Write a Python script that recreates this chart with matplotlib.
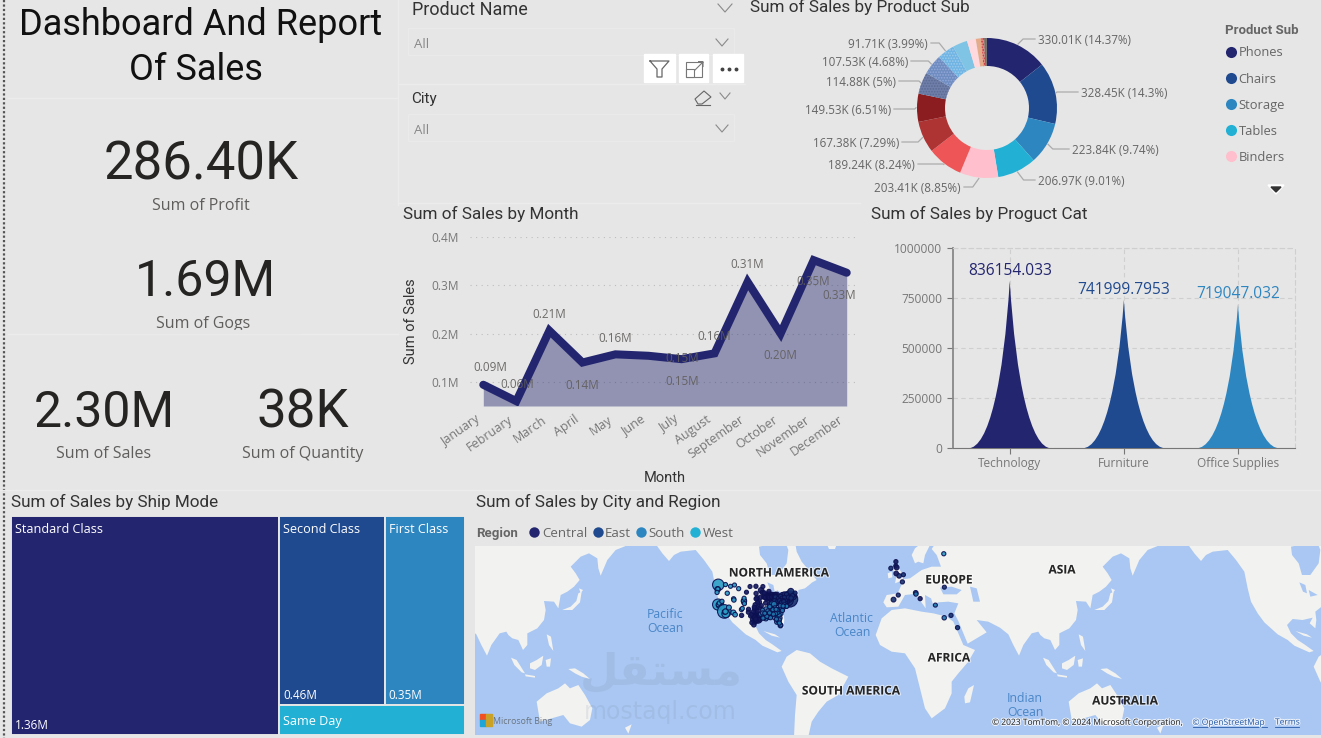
import numpy as np
import matplotlib
matplotlib.use("Agg")
import matplotlib.pyplot as plt
import matplotlib.patheffects as pe
from matplotlib.patches import Polygon, Rectangle, PathPatch
from matplotlib.path import Path
from matplotlib.transforms import ScaledTranslation

plt.rcParams['font.family'] = ['Open Sans', 'DejaVu Sans']
plt.rcParams['hatch.linewidth'] = 0.8

W, H = 1321, 738
BG = "#E6E6E6"
NAVY, BLUE, MID, TEAL = "#23266F", "#204A8F", "#2E86C1", "#22B0D4"
HEAD = ['Roboto', 'DejaVu Sans']

# KPI cards
kpi_profit = "286.40K"
kpi_gogs = "1.69M"
kpi_sales = "2.30M"
kpi_quantity = "38K"

# sales by product sub category (thousands)
sub_names = ["Phones", "Chairs", "Storage", "Tables", "Binders"]
sub_sales = [330.01, 328.45, 223.84, 206.97, 203.41, 189.24, 167.38, 149.53,
             114.88, 107.53, 91.71, 78.48, 46.67, 27.12, 16.48, 12.49, 3.02]
sub_pct = ["14.37", "14.3", "9.74", "9.01", "8.85", "8.24", "7.29", "6.51", "5", "4.68", "3.99"]
sub_colors = [NAVY, BLUE, MID, TEAL, "#FFBFCC", "#EE5557", "#AE3333", "#8B1C1F",
              "#6F7EA8", "#6F8CC0", "#70B4E4", "#7FC4E4", "#FFD9DE", "#E5AC8C",
              "#E08A80", "#7A6A60", "#444444"]
sub_label_x = [1038, 1081, 1072, 1038, 961, 915, 899, 891, 896, 908, 928]
sub_label_y = [39, 92, 149, 180, 187, 164, 142, 109, 81, 61, 43]

# sales by month (millions)
months = ["January", "February", "March", "April", "May", "June", "July",
          "August", "September", "October", "November", "December"]
month_sales = [0.094, 0.060, 0.206, 0.140, 0.157, 0.154, 0.147, 0.159, 0.307, 0.200, 0.352, 0.326]
month_label_x = [490, 517, 549, 582, 615, 682, 682, 714, 747, 780, 813, 839]
month_label_y = [366, 383, 313, 384, 337, 380, 357, 335, 263, 354, 280, 294]

# sales by product category
cats = ["Technology", "Furniture", "Office Supplies"]
cat_sales = [836154.033, 741999.7953, 719047.032]
cat_text = ["836154.033", "741999.7953", "719047.032"]
cat_colors = [NAVY, BLUE, MID]

# sales by ship mode (millions)
ship_modes = ["Standard Class", "Second Class", "First Class", "Same Day"]
ship_sales = [1.36, 0.46, 0.35, 0.13]

# cities on the map: lon, lat, sales in thousands
central_cities = [(-87.6, 41.9, 76), (-95.4, 29.8, 64), (-96.8, 32.8, 20), (-98.5, 29.4, 21), (-97.7, 30.3, 8),
                  (-93.3, 45.0, 16), (-87.9, 43.0, 8), (-83.0, 42.3, 42), (-86.2, 39.8, 6), (-94.6, 39.1, 8),
                  (-97.5, 35.5, 10), (-96.0, 36.2, 5), (-96.0, 41.3, 5), (-97.3, 37.7, 3), (-93.6, 41.6, 4),
                  (-89.4, 43.1, 5), (-90.2, 38.6, 3), (-96.7, 43.5, 3), (-96.8, 46.9, 2), (-100.8, 46.8, 1),
                  (-103.2, 44.1, 1), (-101.8, 35.2, 3), (-101.9, 33.6, 2), (-106.5, 31.8, 3), (-97.4, 27.8, 3),
                  (-99.5, 27.5, 3), (-97.1, 31.5, 2), (-97.3, 32.8, 3), (-96.7, 40.8, 2), (-95.7, 39.0, 1),
                  (-89.6, 40.7, 3), (-89.1, 42.3, 2), (-85.7, 43.0, 3), (-84.6, 42.7, 2), (-88.0, 44.5, 2),
                  (-92.1, 46.8, 1), (-94.1, 30.1, 3), (-95.3, 32.3, 3), (-100.4, 31.5, 2), (-98.2, 26.2, 4),
                  (-94.1, 36.1, 3), (-92.5, 44.0, 3), (-91.5, 41.7, 2), (-87.6, 37.9, 3), (-85.1, 41.1, 3),
                  (-95.9, 34.0, 3), (-96.3, 30.6, 3), (-98.0, 31.0, 2), (-99.7, 32.4, 2), (-94.7, 31.3, 2),
                  (-95.0, 29.3, 4), (-93.2, 37.2, 3), (-90.6, 41.5, 2), (-88.3, 41.8, 6), (-87.8, 41.5, 4),
                  (-86.2, 41.7, 3), (-83.7, 43.0, 3), (-84.4, 42.2, 2), (-91.2, 43.8, 2), (-97.9, 36.4, 2),
                  (-98.5, 33.9, 2), (-96.6, 28.8, 2), (-97.0, 29.7, 3),
                  (-2.1, 57.1, 2), (-2.2, 55.5, 1), (-1.6, 54.9, 8), (-1.9, 52.5, 6), (14.3, 40.9, 2),
                  (152.0, -24.0, 1)]
east_cities = [(-74.0, 40.7, 256), (-75.2, 40.0, 109), (-71.1, 42.4, 14), (-83.0, 40.0, 38), (-81.7, 41.5, 15),
               (-74.2, 40.7, 28), (-78.9, 42.9, 5), (-80.0, 40.4, 5), (-73.8, 42.7, 3), (-77.6, 43.2, 4),
               (-76.1, 43.0, 3), (-72.7, 41.8, 3), (-71.4, 41.8, 16), (-71.5, 43.0, 8), (-73.2, 44.5, 21),
               (-70.3, 43.7, 1), (-83.6, 41.7, 4), (-84.5, 39.1, 6), (-81.5, 41.1, 3), (-84.2, 39.8, 3),
               (-75.5, 39.7, 5), (-75.5, 39.2, 2), (-76.6, 39.3, 7), (-77.0, 38.9, 10), (-80.1, 42.1, 2),
               (-76.9, 40.3, 2), (-82.4, 38.4, 2), (-81.6, 38.3, 1), (-79.0, 41.2, 2), (-77.5, 41.5, 3),
               (-82.0, 39.5, 3), (-80.7, 39.9, 3), (-78.5, 40.0, 2), (-79.5, 38.9, 2), (-78.0, 39.4, 2),
               (-74.8, 41.6, 3), (-72.0, 42.4, 3), (-73.0, 41.2, 5),
               (-5.5, 54.6, 2), (3.0, 52.0, 1), (0.1, 51.5, 5), (2.3, 48.9, 2), (11.3, 43.8, 6),
               (-0.5, 42.7, 1), (-3.7, 40.4, 8), (30.7, 46.5, 1), (35.2, 31.8, 2), (39.6, 24.5, 2)]
south_cities = [(-84.4, 33.7, 17), (-80.2, 25.8, 7), (-81.7, 30.3, 44), (-82.5, 28.0, 10), (-81.4, 28.5, 6),
                (-77.4, 37.5, 7), (-80.8, 35.2, 8), (-78.6, 35.8, 5), (-86.8, 36.2, 16), (-90.0, 35.1, 16),
                (-90.1, 30.0, 9), (-86.8, 33.5, 4), (-85.8, 38.3, 12), (-84.5, 38.0, 16), (-81.0, 34.0, 5),
                (-79.9, 32.8, 3), (-81.1, 32.1, 2), (-92.3, 34.7, 3), (-90.2, 32.3, 5), (-88.0, 30.7, 3),
                (-83.9, 36.0, 3), (-76.3, 36.9, 5), (-79.8, 36.1, 3), (-91.1, 30.5, 2), (-84.3, 30.4, 2),
                (-86.3, 32.4, 2), (-80.1, 26.1, 3), (-93.7, 32.5, 2), (-92.0, 30.2, 3), (-76.0, 36.9, 3),
                (-82.0, 33.5, 2), (-82.4, 34.9, 3), (-85.3, 35.0, 3), (-87.0, 30.5, 3), (-81.0, 29.2, 3),
                (-83.6, 32.8, 4), (-85.0, 32.5, 3), (-88.7, 34.3, 3), (-89.4, 31.3, 3), (-87.6, 33.2, 3),
                (-82.9, 29.6, 2), (-80.9, 27.3, 3), (-78.9, 34.6, 3), (-83.2, 35.2, 2), (-87.5, 36.7, 3),
                (-80.4, 37.2, 2), (-78.4, 37.0, 2), (-92.4, 33.2, 2), (-90.8, 33.0, 2),
                (11.5, 43.2, 3), (24.6, 37.5, 1), (30.6, 30.4, 4)]
west_cities = [(-122.3, 47.6, 119), (-122.7, 45.5, 15), (-117.4, 47.7, 2), (-122.6, 45.6, 3), (-123.1, 44.0, 2),
               (-116.2, 43.6, 3), (-111.9, 40.8, 3), (-111.7, 40.2, 4), (-122.4, 37.8, 112), (-121.9, 37.3, 11),
               (-122.2, 37.8, 4), (-121.5, 38.6, 5), (-119.8, 36.7, 5), (-119.0, 35.4, 3), (-118.2, 34.05, 175),
               (-117.2, 32.7, 47), (-117.9, 33.8, 8), (-117.4, 34.0, 14), (-115.1, 36.2, 10), (-119.8, 39.5, 3),
               (-112.1, 33.4, 11), (-110.9, 32.2, 6), (-106.6, 35.1, 2), (-105.0, 39.7, 13), (-104.8, 38.8, 5),
               (-104.8, 39.7, 11), (-108.5, 45.8, 2), (-111.3, 47.5, 1), (-114.0, 46.9, 1), (-104.8, 41.1, 1),
               (-106.0, 35.7, 1), (-104.6, 38.3, 2), (30.3, 59.9, 2)]
region_names = ["Central", "East", "South", "West"]

# map labels
continent_labels = [("NORTH AMERICA", 779, 572), ("EUROPE", 949, 579), ("ASIA", 1062, 569),
                    ("AFRICA", 949, 657), ("SOUTH AMERICA", 851, 690), ("AUSTRALIA", 1125, 700)]
ocean_labels = [("Pacific\nOcean", 665, 621), ("Atlantic\nOcean", 852, 625), ("Indian\nOcean", 1025, 705)]


def tile(x0, pts):
    # outline points are kept on a grid three times finer than the map
    return [(x0 + u / 3, 545 + v / 3) for u, v in pts]


north_america = tile(499, [(465, -10), (490, 25), (510, 48), (525, 30), (545, 20), (590, 15), (615, 45), (640, 80),
                           (650, 130), (660, 170), (680, 205), (700, 232), (740, 268), (770, 285), (790, 302),
                           (835, 322), (848, 318), (820, 298), (800, 285), (780, 265), (768, 240), (785, 222),
                           (815, 225), (845, 218)]) + \
    tile(755, [(68, 235), (85, 250), (88, 225), (85, 200), (110, 180), (130, 160), (130, 135), (150, 130),
               (172, 112), (185, 105), (165, 80), (140, 50), (125, 20), (120, -10)])
south_america = tile(755, [(80, 365), (95, 335), (125, 315), (165, 325), (195, 350), (230, 370), (280, 395),
                           (250, 450), (215, 470), (190, 500), (170, 530), (150, 620), (115, 620), (120, 510),
                           (125, 450), (100, 410)])
africa = tile(755, [(362, 270), (380, 220), (410, 195), (450, 190), (500, 200), (535, 205), (575, 215), (595, 230),
                    (625, 300), (660, 315), (640, 350), (610, 385), (590, 410), (590, 445), (570, 490), (530, 520),
                    (510, 490), (495, 430), (480, 370), (450, 325), (410, 320), (375, 300)])
eurasia = tile(1031, [(385, -10), (380, 3), (350, 15), (325, 45), (305, 92), (298, 70), (295, 40), (270, 25),
                      (245, 35), (215, 65), (230, 85), (242, 105), (225, 125), (205, 140), (185, 150), (178, 190),
                      (165, 170), (135, 168), (140, 195), (135, 225), (115, 250), (85, 265), (85, 300), (72, 315),
                      (58, 285), (40, 280), (28, 270)]) + \
    tile(755, [(850, 260), (830, 265), (805, 300), (792, 332), (775, 300), (760, 268), (735, 248), (700, 230),
               (665, 225), (695, 262), (638, 296), (610, 228), (598, 205), (610, 175), (580, 170), (550, 172),
               (535, 180), (528, 160), (510, 150), (512, 190), (498, 170), (478, 147), (450, 150), (430, 185),
               (395, 187), (385, 172), (395, 150), (428, 145), (440, 118), (430, 105), (465, 100), (500, 75),
               (530, 65), (558, 65), (545, 30), (530, 12), (545, -10)])
australia = tile(475, [(185, 470), (215, 445), (250, 430), (270, 415), (285, 430), (310, 420), (330, 450), (352, 490),
                       (345, 525), (320, 545), (285, 535), (265, 510), (230, 520), (195, 530), (190, 500)])
islands = [tile(755, [(640, 430), (657, 420), (645, 472), (630, 475), (628, 455)]),
           tile(755, [(470, 30), (480, 10), (505, -10), (530, -10), (510, 30), (505, 55), (490, 50), (480, 55)]),
           tile(755, [(410, 70), (425, 55), (440, 85), (445, 105), (420, 115), (425, 90)]),
           tile(755, [(398, 85), (410, 80), (412, 97), (400, 100)]),
           tile(755, [(212, -10), (248, -10), (240, 12), (222, 12)]),
           tile(755, [(25, 258), (60, 268), (75, 278), (50, 272)]),
           tile(1031, [(190, 195), (215, 185), (232, 168), (238, 145), (248, 140), (243, 172), (220, 195)]),
           tile(1031, [(240, 130), (252, 135), (245, 145)]),
           tile(475, [(108, 338), (125, 345), (150, 385), (140, 382), (118, 360)]),
           tile(475, [(150, 388), (180, 393), (180, 398), (152, 394)]),
           tile(475, [(165, 355), (185, 345), (205, 332), (200, 360), (180, 375), (165, 370)]),
           tile(475, [(212, 345), (228, 340), (225, 365), (215, 365)]),
           tile(475, [(215, 268), (228, 275), (235, 318), (222, 300)]),
           tile(475, [(280, 372), (300, 370), (325, 385), (345, 402), (320, 395), (300, 385)]),
           tile(475, [(450, 548), (470, 538), (460, 566)])]
inland_water = [tile(755, [(12, 5), (90, -10), (100, 15), (95, 55), (70, 90), (45, 90), (35, 55), (15, 30)]),
                tile(755, [(37, 112), (55, 120), (60, 145), (48, 140)]),
                tile(755, [(65, 135), (92, 150), (70, 155)]),
                tile(755, [(555, 128), (590, 125), (620, 135), (605, 148), (565, 148)]),
                tile(755, [(645, 125), (665, 130), (675, 170), (655, 170)])]


def px_axes(x0, y0, x1, y1, **kw):
    return fig.add_axes([x0 / W, 1 - y1 / H, (x1 - x0) / W, (y1 - y0) / H], **kw)


def project(cities):
    # web mercator, scaled to the map panel
    c = np.array(cities, dtype=float)
    x = 899 + 1.478 * c[:, 0]
    y = 665 - 84.7 * np.log(np.tan(np.pi / 4 + np.radians(c[:, 1]) / 2))
    return x, y, 8 + c[:, 2] * 0.5


def chevron(ax, x, y, w=6, h=3.5, color="#8A8A8A"):
    ax.plot([x - w, x, x + w], [y - h, y + h, y - h], color=color, lw=0.8)


fig = plt.figure(figsize=(W / 100, H / 100), dpi=100, facecolor=BG)

# overlay in pixel coordinates for cards, titles and free labels
page = px_axes(0, 0, W, H)
page.set_xlim(0, W)
page.set_ylim(H, 0)
page.axis("off")
page.patch.set_alpha(0)
page.set_zorder(10)


def label(x, y, s, **kw):
    # open sans sits a little high when centred
    kw.setdefault("va", "center")
    return page.text(x, y + 1.5, s, **kw)


def title(x, y, s, size=12.3, color="#333333", **kw):
    page.text(x, y + 1, s, fontsize=size, color=color, family=HEAD, va="center", **kw)


# dividers
page.plot([4, 4], [0, 738], color="#555555", lw=1.6, ls=(0, (1, 1)))
for xs, ys in [([8, 398], [98, 98]), ([8, 398], [334, 334]), ([398, 398], [0, 205]),
               ([398, 745], [84, 84]), ([398, 860], [203, 203]), ([0, W], [490, 490])]:
    page.plot(xs, ys, color="#ECECEC", lw=1)

# header and cards
page.text(201, 25, "Dashboard And Report", fontsize=26, color="#111111", family=HEAD, ha="center", va="center")
page.text(196, 70, "Of Sales", fontsize=26, color="#111111", family=HEAD, ha="center", va="center")
for s, x, y, size in [(kpi_profit, 201, 165, 38), (kpi_gogs, 205, 282, 36), (kpi_sales, 104, 413, 36),
                      (kpi_quantity, 303, 413, 38)]:
    page.text(x, y, s, fontsize=size, color="#252423", family=HEAD, ha="center", va="center")
for s, x, y in [("Sum of Profit", 201, 204), ("Sum of Gogs", 203, 323), ("Sum of Sales", 104, 453),
                ("Sum of Quantity", 303, 453)]:
    label(x, y, s, fontsize=11.5, color="#605E5C", ha="center")
page.add_patch(Rectangle((100, 329.5), 200, 3.5, color=BG, zorder=5))

# slicers
title(412, 9, "Product Name", size=13)
title(411, 98, "City", size=11)
for y0, y1 in [(28, 55), (114, 141)]:
    page.add_patch(Rectangle((408, y0), 326, y1 - y0, fc="none", ec="#EAEAEA", lw=1))
    label(414, (y0 + y1) / 2 + 1, "All", fontsize=9.5, color="#888888")
    chevron(page, 722, (y0 + y1) / 2 + 1)
chevron(page, 725, 8, w=7, h=4)
chevron(page, 725, 96, w=5, h=3)
page.add_patch(Polygon([(695, 99), (704, 91), (711, 97), (702, 104), (698, 104)], fc="none", ec="#666666", lw=0.8))
page.plot([696, 710], [105, 105], color="#666666", lw=0.8)
for x0, x1 in [(644, 675), (679, 708), (713, 743)]:
    page.add_patch(Rectangle((x0, 54), x1 - x0, 28, color="white"))
page.plot([650, 669, 662, 662, 657, 657, 650], [61, 61, 69, 77, 77, 69, 61], color="#666666", lw=0.9)
page.add_patch(Rectangle((686, 62), 16, 15, fc="none", ec="#777777", lw=0.8))
page.add_patch(Rectangle((686, 69), 8, 8, fc="white", ec="#777777", lw=0.8))
page.plot([695, 703, 698.5, 703, 703], [70, 62, 62, 62, 66.5], color="#777777", lw=0.8)
page.plot([722, 729, 736], [69, 69, 69], ls="none", marker="o", ms=1.8, color="#444444")

# panel titles
title(750, 6, "Sum of Sales by Product Sub")
title(403, 213, "Sum of Sales by Month")
title(871, 213, "Sum of Sales by Proguct Cat")
title(11, 501, "Sum of Sales by Ship Mode")
title(476, 501, "Sum of Sales by City and Region")

# donut
cx, cy, rad = 987, 108, 70
ax = px_axes(cx - rad, cy - rad, cx + rad, cy + rad)
wedges, _ = ax.pie(sub_sales, colors=sub_colors, startangle=90, counterclock=False, radius=1,
                   wedgeprops=dict(width=0.4, linewidth=0))
ax.set_xlim(-1, 1)
ax.set_ylim(-1, 1)
for w, dots in [(wedges[8], "#5A6A92"), (wedges[9], "#92A8D8"), (wedges[10], "#9CCCEC"), (wedges[14], "#C82A3A")]:
    w.set_hatch("......")
    w.set_edgecolor(dots)
cum = np.cumsum(sub_sales)
total_sub = cum[-1]
for i, pct in enumerate(sub_pct):
    mid = 2 * np.pi * (cum[i] - sub_sales[i] / 2) / total_sub
    sx, sy = cx + (rad + 1) * np.sin(mid), cy - (rad + 1) * np.cos(mid)
    lx, ly = sub_label_x[i], sub_label_y[i]
    right = i < 4
    side = 1 if right else -1
    ex = sx + side * min(abs(ly - sy), 6)
    page.plot([sx, ex, lx - side * 3], [sy, ly, ly], color="#ABABAB", lw=0.9)
    label(lx, ly, f"{sub_sales[i]:.2f}K ({pct}%)", fontsize=8.4, color="#666666", ha="left" if right else "right")
page.text(1225, 30, "Product Sub", fontsize=9.5, color="#666666", family=HEAD, weight="bold", va="center")
for s, c, y in zip(sub_names, sub_colors, [51.5, 78, 103.5, 130, 156]):
    page.plot([1231], [y], "o", ms=8, color=c, mew=0)
    label(1238.5, y, s, fontsize=9.3, color="#666666")
page.add_patch(Polygon([(1268, 185), (1284, 185), (1276, 194)], color="white"))
page.add_patch(Polygon([(1271, 187), (1281, 187), (1276, 192)], color="#333333"))

# monthly line and area
step = (846.7 - 483.3) / 11
ax = px_axes(470, 237, 858, 406)
ax.patch.set_alpha(0)
ax.set_xlim(-13.3 / step, 11 + 11.3 / step)
ax.set_ylim(0.05, 0.4)
xm = np.arange(len(months))
ax.fill_between(xm, month_sales, 0.05, color=NAVY, alpha=0.43, lw=0)
ax.plot(xm, month_sales, color=NAVY, lw=5.8, solid_joinstyle="miter", solid_capstyle="round")
ax.set_yticks([0.1, 0.2, 0.3, 0.4])
ax.set_yticklabels(["0.1M", "0.2M", "0.3M", "0.4M"], fontsize=8.6, color="#777777")
ax.set_xticks(xm)
ax.set_xticklabels(months, rotation=35, ha="right", rotation_mode="anchor", fontsize=9, color="#777777")
ax.tick_params(axis="y", length=0, pad=8)
ax.tick_params(axis="x", length=0, pad=5)
nudge = ScaledTranslation(-6 / 72, 0, fig.dpi_scale_trans)
for lab in ax.get_xticklabels():
    lab.set_transform(lab.get_transform() + nudge)
ax.grid(axis="y", color="#BDBDBD", lw=0.8, ls=(0, (1, 4)))
ax.set_axisbelow(True)
for s in ax.spines.values():
    s.set_visible(False)
for v, x, y in zip(month_sales, month_label_x, month_label_y):
    label(x, y, f"{v:.2f}M", fontsize=8.4, color="#605E5C", alpha=0.9, ha="center")
page.text(411, 321, "Sum of Sales", fontsize=10.5, color="#333333", family=HEAD, rotation=90, ha="center", va="center")
page.text(665, 478, "Month", fontsize=10.5, color="#333333", family=HEAD, ha="center", va="center")

# spike chart by category
ax = px_axes(952.7, 248.3, 1295, 448.3)
ax.patch.set_alpha(0)
ax.set_xlim(-0.5, 2.5)
ax.set_ylim(0, 1000000)
half = 0.365
for i, (v, c) in enumerate(zip(cat_sales, cat_colors)):
    verts = [(i - half, 0), (i - half * 0.5, 0), (i - half * 0.15, v * 0.4), (i, v),
             (i + half * 0.15, v * 0.4), (i + half * 0.5, 0), (i + half, 0), (i - half, 0)]
    codes = [Path.MOVETO, Path.CURVE4, Path.CURVE4, Path.CURVE4, Path.CURVE4, Path.CURVE4, Path.CURVE4, Path.CLOSEPOLY]
    ax.add_patch(PathPatch(Path(verts, codes), fc=c, ec="none", zorder=3))
    ax.annotate(cat_text[i], (i, v), xytext=(0, 7.2), textcoords="offset points", fontsize=11.2, color=c,
                ha="center", va="center", zorder=4, annotation_clip=False)
ax.set_xticks(range(3))
ax.set_xticklabels(cats, fontsize=8.6, color="#777777")
ax.set_yticks([0, 250000, 500000, 750000, 1000000])
ax.set_yticklabels(["0", "250000", "500000", "750000", "1000000"], fontsize=8.6, color="#777777")
ax.tick_params(color="#777777", length=4.5, width=0.8, pad=3)
ax.tick_params(axis="x", pad=2)
ax.grid(color="#CFCFCF", lw=0.8, ls=(0, (4, 3)))
ax.set_axisbelow(True)
ax.spines["left"].set_color("#888888")
ax.spines["left"].set_linewidth(1.3)
ax.spines["bottom"].set_color("#777777")
for k in ["top", "right"]:
    ax.spines[k].set_color("#CFCFCF")
    ax.spines[k].set_linestyle((0, (4, 3)))
    ax.spines[k].set_linewidth(0.8)

# treemap by ship mode
ax = px_axes(11, 516, 465, 735)
ax.set_xlim(0, 1)
ax.set_ylim(1, 0)
ax.axis("off")
ship_total = sum(ship_sales)
rest = ship_total - ship_sales[0]
left_w = ship_sales[0] / ship_total
top_sum = ship_sales[1] + ship_sales[2]
top_h = top_sum / rest
second_w = (1 - left_w) * ship_sales[1] / top_sum
boxes = [(0, 0, left_w, 1), (left_w, 0, second_w, top_h),
         (left_w + second_w, 0, 1 - left_w - second_w, top_h), (left_w, top_h, 1 - left_w, 1 - top_h)]
for (bx, by, bw, bh), c, name, v in zip(boxes, [NAVY, BLUE, MID, TEAL], ship_modes, ship_sales):
    ax.add_patch(Rectangle((bx, by), bw, bh, fc=c, ec=BG, lw=1.4))
    tx = 11 + bx * 454 + 4
    top = 516 + by * 219
    if name == "Same Day":
        label(tx, top + bh * 219 / 2, name, fontsize=9.1, color="white")
    else:
        label(tx, top + 12, name, fontsize=9.1, color="white")
        label(tx, top + bh * 219 - 11, f"{v:.2f}M", fontsize=8.5, color="white")

# map
ax = px_axes(475, 546, 1321, 735)
ax.set_xlim(475, 1321)
ax.set_ylim(735, 546)
ax.set_xticks([])
ax.set_yticks([])
ax.set_facecolor("#A9C7F2")
for s in ax.spines.values():
    s.set_visible(False)
for shift in (-532, 0, 532):
    for outline in [north_america, south_america, africa, eurasia, australia] + islands:
        ax.add_patch(Polygon([(x + shift, y) for x, y in outline], fc="#F2F2F0", ec="none"))
    for outline in inland_water:
        ax.add_patch(Polygon([(x + shift, y) for x, y in outline], fc="#A9C7F2", ec="none"))

halo = [pe.withStroke(linewidth=1.6, foreground="white", alpha=0.6)]
for s, x, y in continent_labels:
    ax.text(x, y + 1, s, fontsize=8.6, weight="bold", color="#262626", ha="center", va="center", path_effects=halo, zorder=6)
for s, x, y in ocean_labels:
    ax.text(x, y, s, fontsize=8.8, color="#4A86C8", ha="center", va="center", linespacing=1.1, zorder=6)

# faint site mark across the map
ax.text(661, 672, "\uFEDE\uFED8\uFE98\uFEB4\uFEE3", fontsize=32, family="DejaVu Sans", weight="bold",
        color="#6E7F99", alpha=0.13, ha="center", va="center", zorder=7)
ax.text(660, 712, "mostaql.com", fontsize=17, family="DejaVu Sans", color="#6E7F99", alpha=0.13,
        ha="center", va="center", zorder=7)

for cities, color in [(west_cities, "#2A9CC6"), (central_cities, "#14175C"), (east_cities, "#16306F"), (south_cities, "#1F78AE")]:
    x, y, s = project(cities)
    ax.scatter(x, y, s=s, facecolor=color, edgecolor="#0B1050", linewidth=0.8, alpha=0.9, zorder=5)

page.text(476, 533, "Region", fontsize=9.5, color="#666666", family=HEAD, weight="bold", va="center")
for name, c, x_dot, x_txt in zip(region_names, [NAVY, BLUE, MID, TEAL], [534, 597.5, 641, 695], [542, 605, 648, 703]):
    page.plot([x_dot], [532], "o", ms=7.5, color=c, mew=0)
    label(x_txt, 532, name, fontsize=9.5, color="#666666")

# map attribution
for (x0, y0), c in zip([(480, 714), (486, 714), (480, 720), (486, 720)], ["#F25022", "#C9A227", "#1FA5D8", "#C9A227"]):
    page.add_patch(Rectangle((x0, y0), 5.5, 5.5, color=c))
label(493, 719.5, "Microsoft Bing", fontsize=6.3, color="#6B7480")
thin_halo = [pe.withStroke(linewidth=1.5, foreground="white", alpha=0.75)]
label(992, 721.5, "© 2023 TomTom, © 2024 Microsoft Corporation,", fontsize=6.1, color="#222222", path_effects=thin_halo)
label(1192.5, 721.5, "© OpenStreetMap", fontsize=6.1, color="#2A5CA8", path_effects=thin_halo)
label(1275, 721.5, "Terms", fontsize=6.1, color="#2A5CA8", path_effects=thin_halo)
page.plot([1193, 1267], [727, 727], color="#2A5CA8", lw=0.6)
page.plot([1275, 1299], [727, 727], color="#2A5CA8", lw=0.6)

fig.savefig("out.png", dpi=100, facecolor=BG)
